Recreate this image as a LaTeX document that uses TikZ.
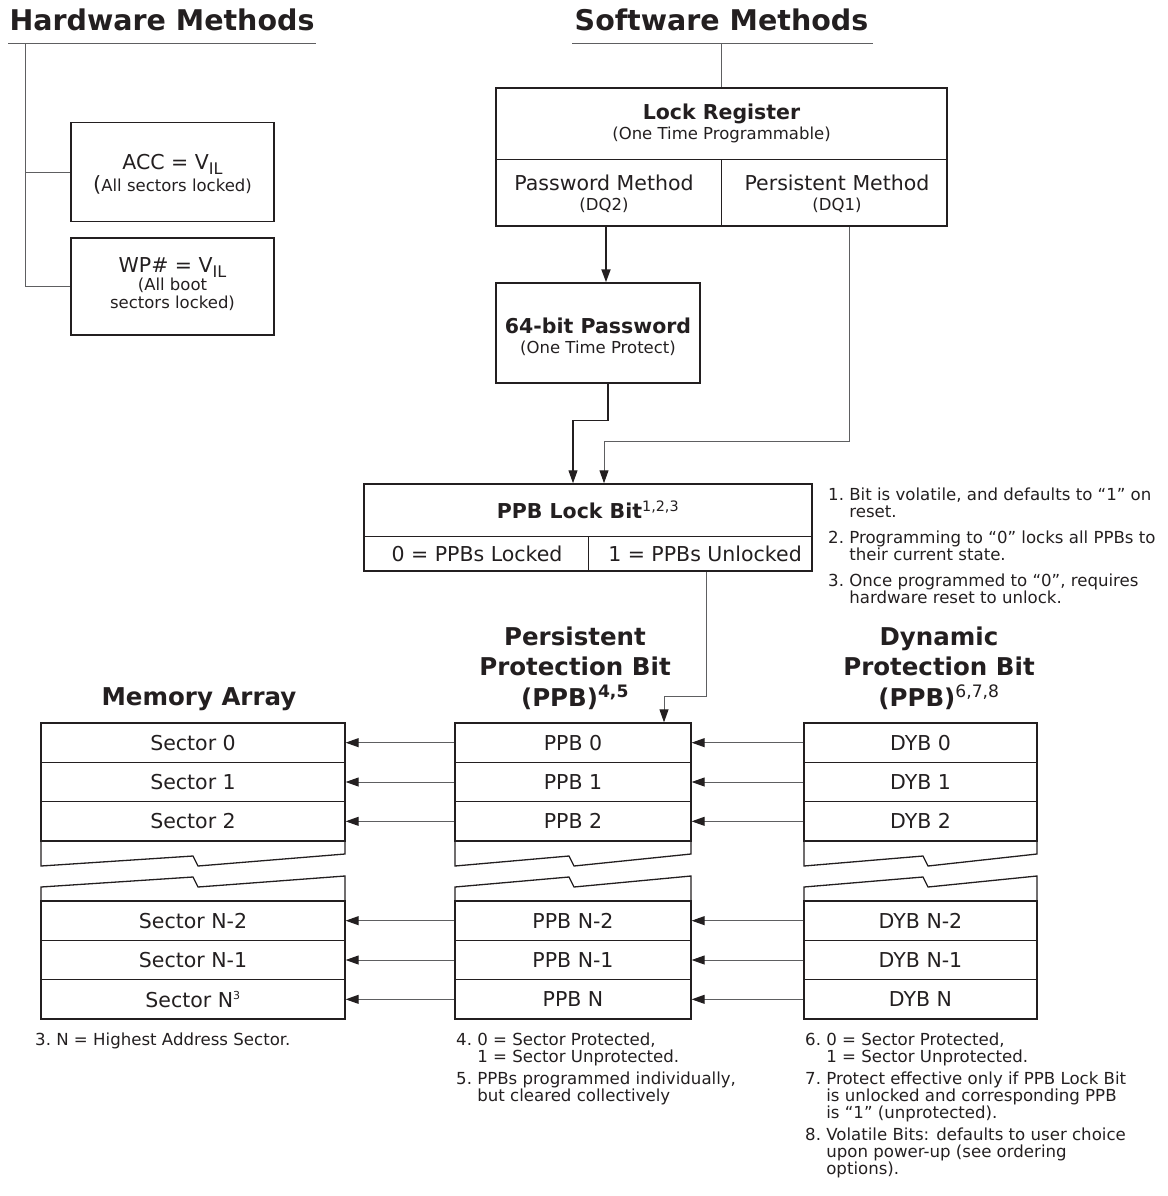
\documentclass[tikz,border=0pt]{standalone}
\usepackage{fontspec}
\setmainfont{DejaVu Sans}
\usetikzlibrary{arrows.meta}
\definecolor{ink}{HTML}{231F20}
\definecolor{lgray}{HTML}{5E5F61}
\newcommand\fs[2]{\fontsize{#1}{#2}\selectfont}
\newcommand\vsub[1]{\raisebox{-0.45ex}{\fs{16}{18}#1}}
\newcommand\brk[3]{%
  \draw[brkline] (#1,841) -- (#1,866) -- (#3,856) -- ({#3+5},866) -- (#2,854) -- (#2,841);
  \draw[brkline] (#1,901) -- (#1,887) -- (#3,877) -- ({#3+5},887) -- (#2,876) -- (#2,901);}
\begin{document}
\begin{tikzpicture}[x=1pt,y=-1pt,
  every node/.style={text=ink, inner sep=0pt},
  box/.style={draw=ink, line width=1.5pt},
  div/.style={draw=ink, line width=1pt},
  cell/.style={draw=ink, line width=1.3pt, minimum height=39.33pt, font=\fs{20.5}{24}},
  brkline/.style={draw=ink, line width=1.3pt},
  conn/.style={draw=lgray, line width=1pt},
  darkconn/.style={draw=ink, line width=1.2pt},
  thickconn/.style={draw=ink, line width=2pt},
  tip/.style={-{Triangle[length=13pt,width=9pt,color=ink]}},
  title/.style={font=\bfseries\fs{28.5}{32}},
  head/.style={font=\bfseries\fs{24.5}{30.5}, align=center},
  sub/.style={font=\fs{16.5}{20}, align=center},
  note/.style={font=\fs{16.6}{17}, align=left, anchor=north west}
]
\useasboundingbox (0,0) rectangle (1167,1196);

% ---------- Titles ----------
\node[title] (hwt) at (162,20) {Hardware Methods};
\node[title] (swt) at (721.5,20) {Software Methods};
\draw[conn] (8,44) -- (316,44);
\draw[conn] (572,44) -- (873,44);
\coordinate (hwroot) at (25,44);
\coordinate (swroot) at (721.5,44);

% ---------- Hardware methods ----------
\node[box, minimum width=203pt, minimum height=99pt] (acc) at (172.5,172) {};
\node[sub] (acct) at (172.5,174)
  {{\fs{20.5}{26}ACC = V\vsub{IL}}\\{\fs{21}{20}(}All sectors locked)};
\node[box, minimum width=203pt, minimum height=97pt] (wp) at (172.5,286.5) {};
\node[sub, font=\fs{16.5}{17.5}] (wpt) at (172.5,284)
  {{\fs{20.5}{22}WP\# = V\vsub{IL}}\\(All boot\\sectors locked)};
\draw[conn] (hwroot) |- (wp.west);
\draw[conn] (hwroot |- acc.west) -- (acc.west);

% ---------- Lock register ----------
\node[box, minimum width=451pt, minimum height=138pt] (lr) at (721.5,157) {};
\draw[div] ([yshift=-2pt]lr.west) -- ([yshift=-2pt]lr.east);
\draw[div] ([yshift=-2pt]lr.center) -- (lr.south);
\node[sub] (lrt) at (721.5,123) {{\bfseries\fs{20.5}{24}Lock Register}\\(One Time Programmable)};
\node[sub] (pm) at (604,194) {{\fs{20.5}{24}Password Method}\\(DQ2)};
\node[sub] (psm) at (837,194) {{\fs{20.5}{24}Persistent Method}\\(DQ1)};
\draw[conn] (swroot) -- (lr.north);

% ---------- 64-bit password ----------
\node[box, minimum width=204pt, minimum height=100pt] (pw) at (598,333) {};
\node[sub] (pwt) at (598,337) {{\bfseries\fs{20.5}{24}64-bit Password}\\(One Time Protect)};
\coordinate (pwin) at ([xshift=8pt]pw.north);
\draw[thickconn, tip] (pwin |- lr.south) -- (pwin);

% ---------- PPB lock bit ----------
\node[box, minimum width=448pt, minimum height=87pt] (lb) at (588,527.5) {};
\draw[div] ([yshift=-8.5pt]lb.west) -- ([yshift=-8.5pt]lb.east);
\draw[div] ([yshift=-8.5pt]lb.center) -- (lb.south);
\node[font=\bfseries\fs{20.5}{24}] (lbt) at (588,510) {PPB Lock Bit\textsuperscript{\mdseries 1,2,3}};
\node[font=\fs{20.5}{24}] (l0) at (477,554) {0 = PPBs Locked};
\node[font=\fs{20.5}{24}] (l1) at (705,554) {1 = PPBs Unlocked};

\draw[darkconn, tip] ([xshift=10pt]pw.south) -- ++(0,37) -| ([xshift=-15pt]lb.north);
\draw[conn, tip] ([xshift=127.5pt]lr.south) -- ++(0,215) -| ([xshift=16pt]lb.north);

\node[note] (n123) at (828,488) {%
1.~Bit is volatile, and defaults to “1” on\\
\hphantom{1.~}reset.\\[9pt]
2.~Programming to “0” locks all PPBs to\\
\hphantom{2.~}their current state.\\[9pt]
3.~Once programmed to “0”, requires\\
\hphantom{3.~}hardware reset to unlock.};

% ---------- Column headings ----------
\node[head] (hmem) at (199,699) {Memory Array};
\node[head] (hppb) at (575,668) {Persistent\\Protection Bit\\(PPB)\textsuperscript{4,5}};
\node[head] (hdyb) at (939,668) {Dynamic\\Protection Bit\\(PPB)\textsuperscript{\mdseries 6,7,8}};

% ---------- Memory array ----------
\node[cell, minimum width=304pt] (m0) at (193,742.67) {Sector 0};
\node[cell, minimum width=304pt] (m1) at (193,782) {Sector 1};
\node[cell, minimum width=304pt] (m2) at (193,821.33) {Sector 2};
\node[cell, minimum width=304pt] (mn2) at (193,920.67) {Sector N-2};
\node[cell, minimum width=304pt] (mn1) at (193,960) {Sector N-1};
\node[cell, minimum width=304pt] (mn) at (193,999.33) {Sector N\textsuperscript{\fs{11}{12}3}};
\brk{41}{345}{193}

% ---------- PPB ----------
\node[cell, minimum width=236pt] (p0) at (573,742.67) {PPB 0};
\node[cell, minimum width=236pt] (p1) at (573,782) {PPB 1};
\node[cell, minimum width=236pt] (p2) at (573,821.33) {PPB 2};
\node[cell, minimum width=236pt] (pn2) at (573,920.67) {PPB N-2};
\node[cell, minimum width=236pt] (pn1) at (573,960) {PPB N-1};
\node[cell, minimum width=236pt] (pn) at (573,999.33) {PPB N};
\brk{455}{691}{569}

% ---------- DYB ----------
\node[cell, minimum width=233pt] (d0) at (920.5,742.67) {DYB 0};
\node[cell, minimum width=233pt] (d1) at (920.5,782) {DYB 1};
\node[cell, minimum width=233pt] (d2) at (920.5,821.33) {DYB 2};
\node[cell, minimum width=233pt] (dn2) at (920.5,920.67) {DYB N-2};
\node[cell, minimum width=233pt] (dn1) at (920.5,960) {DYB N-1};
\node[cell, minimum width=233pt] (dn) at (920.5,999.33) {DYB N};
\brk{804}{1037}{923}

\draw[conn, tip] ([xshift=118pt]lb.south) -- ++(0,125) -| ([xshift=91pt]p0.north);

% ---------- Row arrows ----------
\foreach \a/\b in {p0/m0,p1/m1,p2/m2,pn2/mn2,pn1/mn1,pn/mn,d0/p0,d1/p1,d2/p2,dn2/pn2,dn1/pn1,dn/pn}
  \draw[conn, tip] (\a.west) -- (\b.east);

% ---------- Bottom notes ----------
\node[note] (n3) at (35,1033) {3.~N = Highest Address Sector.};
\node[note] (n45) at (456,1033) {%
4.~0 = Sector Protected,\\
\hphantom{4.~}1 = Sector Unprotected.\\[5pt]
5.~PPBs programmed individually,\\
\hphantom{5.~}but cleared collectively};
\node[note] (n678) at (805,1033) {%
6.~0 = Sector Protected,\\
\hphantom{6.~}1 = Sector Unprotected.\\[5pt]
7.~Protect effective only if PPB Lock Bit\\
\hphantom{7.~}is unlocked and corresponding PPB\\
\hphantom{7.~}is “1” (unprotected).\\[5pt]
8.~Volatile Bits: defaults to user choice\\
\hphantom{8.~}upon power-up (see ordering\\
\hphantom{8.~}options).};
\end{tikzpicture}
\end{document}
